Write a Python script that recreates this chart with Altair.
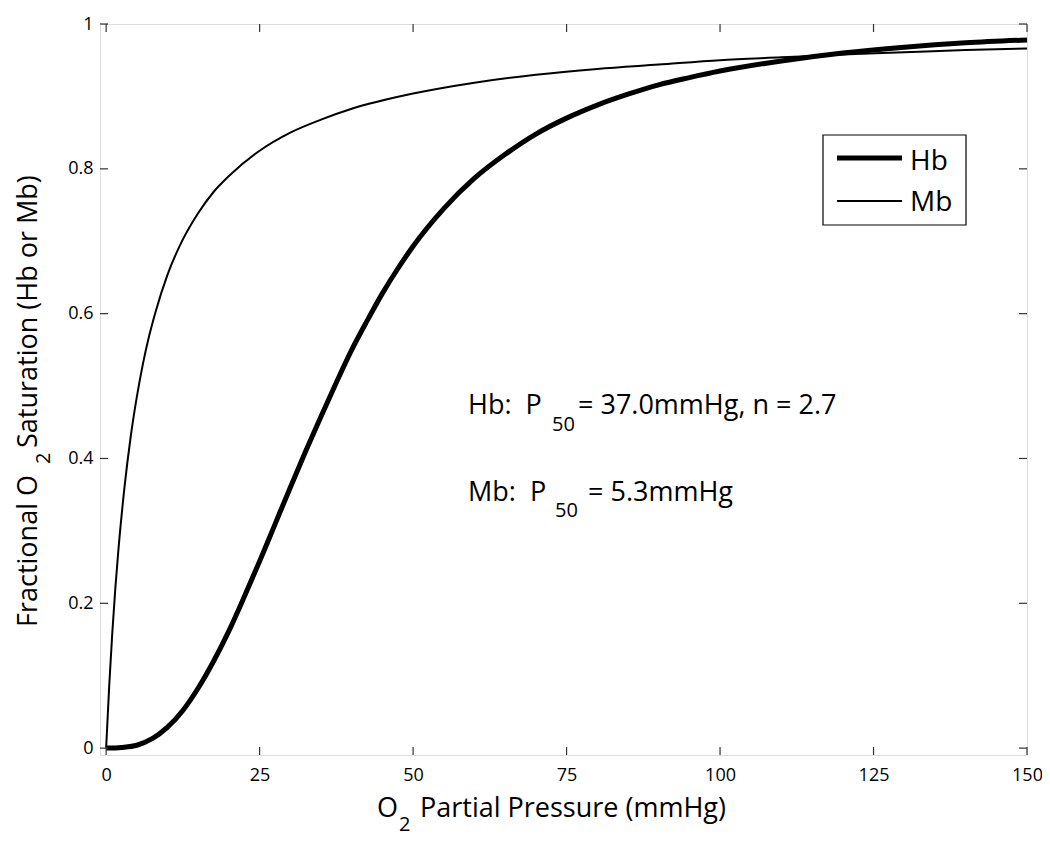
import altair as alt
import pandas as pd

FONT = "Open Sans"

# ---- data ----
X_TICKS = [0, 25, 50, 75, 100, 125, 150]
Y_TICKS = [0, 0.2, 0.4, 0.6, 0.8, 1.0]

hb_p = [0, 2.5, 5, 7.5, 10, 12.5, 15, 17.5, 20, 22.5, 25, 27.5, 30, 32.5, 35, 37.5,
        40, 42.5, 45, 47.5, 50, 55, 60, 65, 70, 75, 80, 85, 90, 95, 100, 110, 120,
        130, 140, 150]
hb_s = [0.0, 0.001, 0.004, 0.013, 0.029, 0.052, 0.083, 0.12, 0.162, 0.209, 0.258, 0.309,
        0.36, 0.41, 0.458, 0.505, 0.55, 0.59, 0.628, 0.662, 0.693, 0.745, 0.787, 0.82,
        0.848, 0.87, 0.888, 0.903, 0.916, 0.926, 0.935, 0.949, 0.96, 0.968, 0.974, 0.978]

mb_p = [0, 0.5, 1, 1.5, 2, 3, 4, 5, 6, 7, 8, 10, 12, 15, 17.5, 20, 25, 30, 35, 40,
        50, 60, 70, 80, 90, 100, 110, 120, 130, 140, 150]
mb_s = [0.0, 0.086, 0.159, 0.221, 0.274, 0.361, 0.43, 0.485, 0.531, 0.569, 0.601,
        0.654, 0.694, 0.739, 0.768, 0.79, 0.825, 0.85, 0.868, 0.883, 0.904, 0.919,
        0.93, 0.938, 0.944, 0.95, 0.954, 0.958, 0.961, 0.964, 0.966]

SERIES = ["Hb", "Mb"]
LINE_WIDTHS = [5, 2]

HB_ANNOT = ["Hb:\u00a0\u00a0P", "50", "= 37.0mmHg, n = 2.7"]
MB_ANNOT = ["Mb:\u00a0\u00a0P", "50", "= 5.3mmHg"]
X_TITLE = ["O", "2", "Partial Pressure (mmHg)"]
Y_TITLE = ["Fractional O", "2", "Saturation (Hb or Mb)"]

W, H = 927, 731

df = pd.DataFrame({
    "p": hb_p + mb_p,
    "s": hb_s + mb_s,
    "series": ["Hb"] * len(hb_p) + ["Mb"] * len(mb_p),
})

xs = alt.Scale(domain=[-1, 150], nice=False, zero=False)
ys = alt.Scale(domain=[-0.0095, 1.0], nice=False, zero=False)

x_axis = alt.Axis(values=X_TICKS, title=None, ticks=False, tickSize=0, domain=False,
                  grid=False, labelFontSize=18, labelFont=FONT, labelColor="black",
                  labelPadding=11, labelFlush=False)
y_axis = alt.Axis(values=Y_TICKS, format="~g", title=None, ticks=False, tickSize=0,
                  domain=False, grid=False, labelFontSize=18, labelFont=FONT,
                  labelColor="black", labelPadding=7)

lines = alt.Chart(df).mark_line(color="black", interpolate="monotone").encode(
    x=alt.X("p:Q", scale=xs, axis=x_axis),
    y=alt.Y("s:Q", scale=ys, axis=y_axis),
    strokeWidth=alt.StrokeWidth(
        "series:N", scale=alt.Scale(domain=SERIES, range=LINE_WIDTHS), legend=None),
)

tx = pd.DataFrame({"t": X_TICKS})
ty = pd.DataFrame({"t": Y_TICKS})
TICK_C = "#333333"
xt_bottom = alt.Chart(tx).mark_rule(color=TICK_C, strokeWidth=1.2).encode(
    x=alt.X("t:Q", scale=xs, axis=x_axis), y=alt.value(H), y2=alt.value(H - 8))
xt_top = alt.Chart(tx).mark_rule(color=TICK_C, strokeWidth=1.2).encode(
    x=alt.X("t:Q", scale=xs, axis=x_axis), y=alt.value(0), y2=alt.value(8))
yt_left = alt.Chart(ty).mark_rule(color=TICK_C, strokeWidth=1.2).encode(
    y=alt.Y("t:Q", scale=ys, axis=y_axis), x=alt.value(0), x2=alt.value(8))
yt_right = alt.Chart(ty).mark_rule(color=TICK_C, strokeWidth=1.2).encode(
    y=alt.Y("t:Q", scale=ys, axis=y_axis), x=alt.value(W), x2=alt.value(W - 8))


def label(text, x, y, size, angle=0):
    kw = dict(text=text, fontSize=size, font=FONT, align="left",
              baseline="alphabetic", color="black")
    if angle:
        kw["angle"] = angle
    return alt.Chart(pd.DataFrame({"k": [0]})).mark_text(**kw).encode(
        x=alt.value(x), y=alt.value(y))


# ---- legend (box, sample lines, labels) ----
one = pd.DataFrame({"k": [0]})
leg_box = alt.Chart(one).mark_rect(fill="white", stroke="black", strokeWidth=1.2).encode(
    x=alt.value(723), x2=alt.value(866), y=alt.value(111), y2=alt.value(201))
leg_items = []
for name, lw, ly, ty_ in zip(SERIES, LINE_WIDTHS, [134, 177], [146, 187]):
    leg_items.append(alt.Chart(one).mark_rule(color="black", strokeWidth=lw).encode(
        x=alt.value(737), x2=alt.value(802), y=alt.value(ly)))
    leg_items.append(label(name, 810, ty_, 28))

texts = [
    # annotation
    label(HB_ANNOT[0], 368, 390, 27),
    label(HB_ANNOT[1], 452, 407, 20),
    label(HB_ANNOT[2], 478, 390, 27),
    label(MB_ANNOT[0], 368, 477, 27),
    label(MB_ANNOT[1], 455, 493, 20),
    label(MB_ANNOT[2], 488, 477, 27),
    # x title
    label(X_TITLE[0], 277, 793, 27),
    label(X_TITLE[1], 299, 807, 20),
    label(X_TITLE[2], 320, 793, 27),
    # y title (rotated)
    label(Y_TITLE[0], -63, 603, 27, 270),
    label(Y_TITLE[1], -50, 440, 20, 270),
    label(Y_TITLE[2], -63, 424, 27, 270),
]

chart = alt.layer(lines, xt_bottom, xt_top, yt_left, yt_right, leg_box, *leg_items,
                  *texts).properties(
    width=W, height=H,
    autosize=alt.AutoSizeParams(type="none"),
    padding={"left": 92, "top": 16, "right": 15, "bottom": 83},
).configure_view(stroke="#333333", strokeWidth=1.5).configure(background="white")

chart.save("out.html", embed_options={"renderer": "svg", "actions": False})
